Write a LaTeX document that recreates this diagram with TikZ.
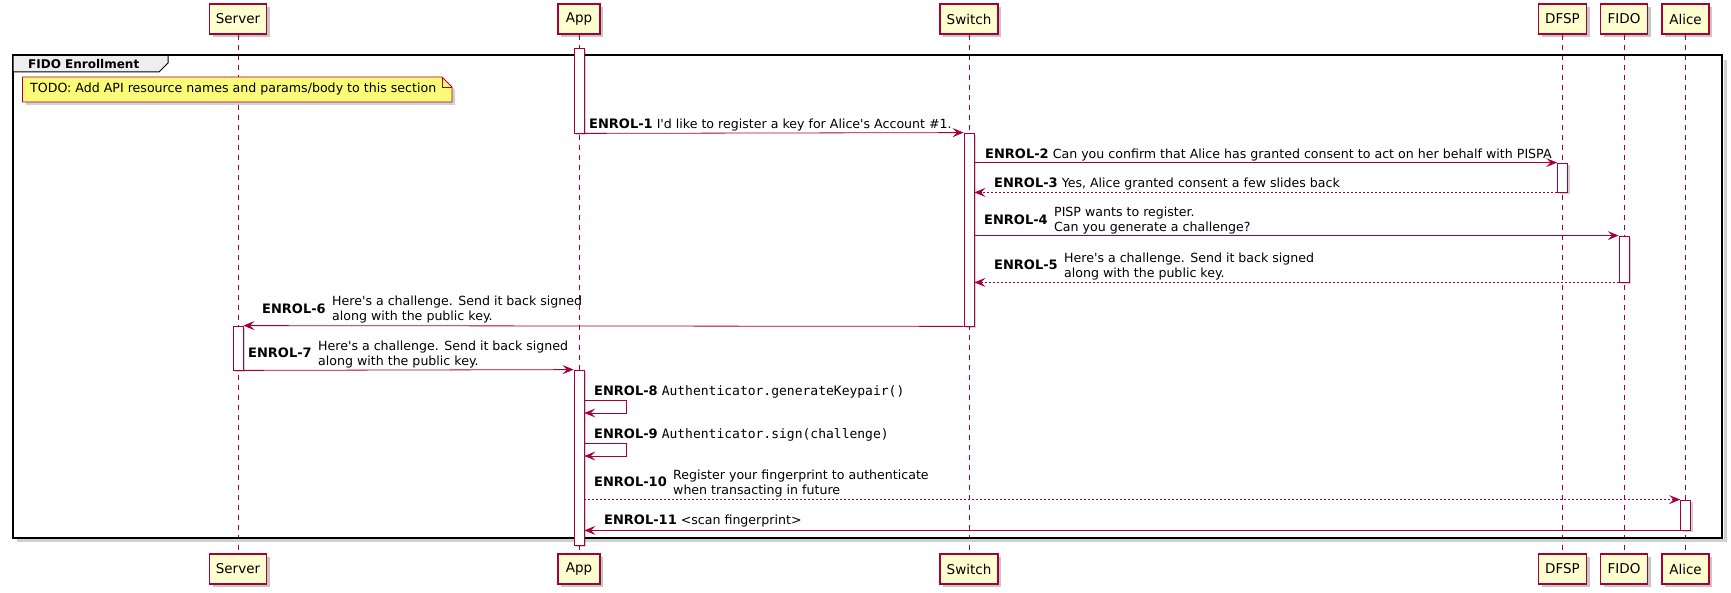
\documentclass[tikz,border=0pt]{standalone}
\usepackage{fontspec}
\setmainfont{DejaVu Sans}
\newfontfamily\codefont{DejaVu Sans Mono}
\usetikzlibrary{arrows.meta,shadows}
\definecolor{uborder}{HTML}{A80036}
\definecolor{ufill}{HTML}{FEFECE}
\definecolor{unote}{HTML}{FBFB77}
\definecolor{utab}{HTML}{EEEEEE}
\newcommand\enrnum[1]{{\fontsize{13}{15}\selectfont\bfseries #1}}
\newcommand\enrcode[1]{{\codefont\fontsize{13}{15}\selectfont #1}}
\begin{document}
\begin{tikzpicture}[x=1pt,y=-1pt,
  font=\fontsize{12.6}{15}\selectfont,
  part/.style={draw=uborder, fill=ufill, line width=1.2pt, minimum height=30pt,
    inner xsep=2pt, inner ysep=0pt, font=\fontsize{13.5}{16}\selectfont,
    drop shadow={shadow xshift=3pt, shadow yshift=-3pt, fill=black, opacity=0.22}},
  life/.style={uborder, line width=0.8pt, dash pattern=on 5pt off 5pt},
  act/.style={draw=uborder, fill=white, line width=0.8pt, minimum width=10pt, inner sep=0pt,
    drop shadow={shadow xshift=2pt, shadow yshift=-2pt, fill=black, opacity=0.18}},
  msg/.style={uborder, line width=0.8pt, -{Stealth[length=11pt, width=9pt, inset=4.5pt]}},
  ret/.style={msg, dash pattern=on 2pt off 2pt},
  lbl/.style={anchor=base west, inner sep=0pt, text=black},
  num/.style={lbl, font=\fontsize{13}{15}\selectfont\bfseries},
]
\useasboundingbox (0,0) rectangle (1731,593);

% participants
\foreach \n/\t/\x/\w in {s/Server/238/57, a/App/579/42, w/Switch/969/58, d/DFSP/1562.5/48, f/FIDO/1624/47, l/Alice/1685.5/47} {
  \node[part, minimum width=\w pt] (\n-top) at (\x,19) {\t};
  \node[part, minimum width=\w pt] (\n-bot) at (\x,569) {\t};
  \draw[life] (\n-top.south) -- (\n-bot.north);
}

% group frame
\draw[black!18, line width=3pt] (1725,60) -- (1725,540.5) -- (17,540.5);
\draw[black, line width=2pt] (13,55.5) rectangle (1722,537.5);
\draw[black, line width=1pt, fill=utab] (13,55.5) -- (168,55.5) -- (168,63) -- (159,72) -- (13,72) -- cycle;
\node[anchor=west, inner sep=0pt, font=\fontsize{12}{14}\selectfont\bfseries] (ttl) at (28,64) {FIDO Enrollment};

% note
\fill[black, opacity=0.18] (25.5,80) -- (445,80) -- (455,90) -- (455,105) -- (25.5,105) -- cycle;
\draw[uborder, fill=unote, line width=0.8pt] (22.5,77) -- (442,77) -- (452,87) -- (452,102) -- (22.5,102) -- cycle;
\draw[uborder, line width=0.8pt] (442,77) -- (442,87) -- (452,87);
\node[lbl, anchor=west] (note) at (30,89.5) {TODO: Add API resource names and params/body to this section};

% activations
\node[act, minimum height=84.5pt] (a1) at (579,90.75) {};
\node[act, minimum height=193pt] (sw) at (969,229.5) {};
\node[act, minimum height=29pt] (dp) at (1562.5,177.5) {};
\node[act, minimum height=46pt] (fd) at (1624,259) {};
\node[act, minimum height=44pt] (sv) at (238,348) {};
\node[act, minimum height=175pt] (a2) at (579,457.5) {};
\node[act, minimum height=30pt] (al) at (1685.5,515) {};

% messages
\draw[msg] (a1.south east) -- (sw.north west);
\node[lbl] (n1) at (589,128.5) {\enrnum{ENROL-1} I\textquotesingle d like to register a key for Alice\textquotesingle s Account \#1.};

\draw[msg] (dp.north west -| sw.east) -- (dp.north west);
\node[lbl] (n2) at (985,158.5) {\enrnum{ENROL-2} Can you confirm that Alice has granted consent to act on her behalf with PISPA};

\draw[ret] (dp.south west) -- (dp.south west -| sw.east);
\node[lbl] (n3) at (994,187.5) {\enrnum{ENROL-3} Yes, Alice granted consent a few slides back};

\draw[msg] (fd.north west -| sw.east) -- (fd.north west);
\node[num] (n4) at (984,224.5) {ENROL-4};
\node[lbl] (t4a) at ([xshift=6pt,yshift=7.5pt]n4.base east) {PISP wants to register.};
\node[lbl] (t4b) at ([xshift=6pt,yshift=-7.5pt]n4.base east) {Can you generate a challenge?};

\draw[ret] (fd.south west) -- (fd.south west -| sw.east);
\node[num] (n5) at (994,269.7) {ENROL-5};
\node[lbl] (t5a) at ([xshift=6pt,yshift=7.5pt]n5.base east) {Here\textquotesingle s a challenge. Send it back signed};
\node[lbl] (t5b) at ([xshift=6pt,yshift=-7.5pt]n5.base east) {along with the public key.};

\draw[msg] (sw.south west) -- (sv.north east);
\node[num] (n6) at (262,313.5) {ENROL-6};
\node[lbl] (t6a) at ([xshift=6pt,yshift=7.5pt]n6.base east) {Here\textquotesingle s a challenge. Send it back signed};
\node[lbl] (t6b) at ([xshift=6pt,yshift=-7.5pt]n6.base east) {along with the public key.};

\draw[msg] (sv.south east) -- (a2.north west);
\node[num] (n7) at (248,357.5) {ENROL-7};
\node[lbl] (t7a) at ([xshift=6pt,yshift=7.5pt]n7.base east) {Here\textquotesingle s a challenge. Send it back signed};
\node[lbl] (t7b) at ([xshift=6pt,yshift=-7.5pt]n7.base east) {along with the public key.};

\coordinate (s8) at (0,400);
\draw[msg] (a2.east |- s8) -- ++(42,0) |- ++(-42,13);
\node[lbl] (n8) at (594,395) {\enrnum{ENROL-8} \enrcode{Authenticator.generateKeypair()}};

\coordinate (s9) at (0,443);
\draw[msg] (a2.east |- s9) -- ++(42,0) |- ++(-42,13);
\node[lbl] (n9) at (594,438) {\enrnum{ENROL-9} \enrcode{Authenticator.sign(challenge)}};

\draw[ret] (al.north west -| a2.east) -- (al.north west);
\node[num] (n10) at (594,486.5) {ENROL-10};
\node[lbl] (t10a) at ([xshift=6pt,yshift=7.5pt]n10.base east) {Register your fingerprint to authenticate};
\node[lbl] (t10b) at ([xshift=6pt,yshift=-7.5pt]n10.base east) {when transacting in future};

\draw[msg] (al.south west) -- (al.south west -| a2.east);
\node[lbl] (n11) at (604,524.5) {\enrnum{ENROL-11} <scan fingerprint>};
\end{tikzpicture}
\end{document}
